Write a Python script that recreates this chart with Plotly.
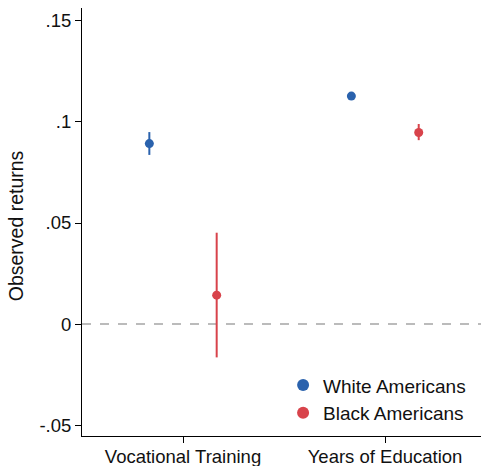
import plotly.graph_objects as go

categories = ["Vocational Training", "Years of Education"]
groups = ["White Americans", "Black Americans"]
white_vals = [0.0893, 0.1128]
white_lo = [0.0837, 0.1118]
white_hi = [0.0950, 0.1138]
black_vals = [0.0143, 0.0948]
black_lo = [-0.0165, 0.0910]
black_hi = [0.0452, 0.0990]
y_ticks = [-0.05, 0, 0.05, 0.1, 0.15]
y_tick_labels = ["-.05", "0", ".05", ".1", ".15"]

colors = ["#2a62ad", "#d8434b"]
offset = 1 / 6
FS = 18.5

fig = go.Figure()
series = [(white_vals, white_lo, white_hi), (black_vals, black_lo, black_hi)]
for i, (vals, lo, hi) in enumerate(series):
    xs = [j + (-offset if i == 0 else offset) for j in range(len(categories))]
    fig.add_trace(go.Scatter(
        x=xs, y=vals, mode="markers", name=groups[i],
        marker=dict(color=colors[i], size=9),
        error_y=dict(type="data", symmetric=False,
                     array=[h - v for h, v in zip(hi, vals)],
                     arrayminus=[v - l for v, l in zip(vals, lo)],
                     color=colors[i], thickness=2, width=0),
    ))

fig.add_shape(type="line", xref="paper", x0=0, x1=1, y0=0, y1=0, yref="y",
              line=dict(color="#bbbbbb", width=2, dash="dash"), layer="below")

fig.add_annotation(text="Observed returns", xref="paper", yref="paper",
                   x=-(82 - 16) / 399, y=0.49, xanchor="center", yanchor="middle",
                   textangle=-90, showarrow=False, font=dict(size=19.5))

fig.update_layout(
    width=481, height=466,
    margin=dict(l=82, r=0, t=8, b=30, pad=0),
    plot_bgcolor="white", paper_bgcolor="white",
    font=dict(family="Liberation Sans, Arial, sans-serif", size=FS, color="#111111"),
    showlegend=True,
    legend=dict(x=0.504, y=0.163, xanchor="left", yanchor="top",
                bgcolor="rgba(0,0,0,0)", font=dict(size=19),
                itemsizing="constant", tracegroupgap=0),
    xaxis=dict(range=[-0.5, 1.475], tickmode="array", tickvals=[0, 1],
               ticktext=categories, showgrid=False, zeroline=False,
               showline=True, linecolor="black", linewidth=1,
               ticks="outside", ticklen=6, tickcolor="black", automargin=False,
               ticklabelstandoff=-2),
    yaxis=dict(range=[-0.0554, 0.1564], tickmode="array", tickvals=y_ticks,
               ticktext=y_tick_labels, showgrid=False, zeroline=False,
               showline=True, linecolor="black", linewidth=1,
               ticks="outside", ticklen=6, tickcolor="black", automargin=False),
)

fig.write_html(
    "out.html",
    config={"displayModeBar": False},
    post_script="document.body.style.margin='0';document.body.style.overflow='hidden';",
)
